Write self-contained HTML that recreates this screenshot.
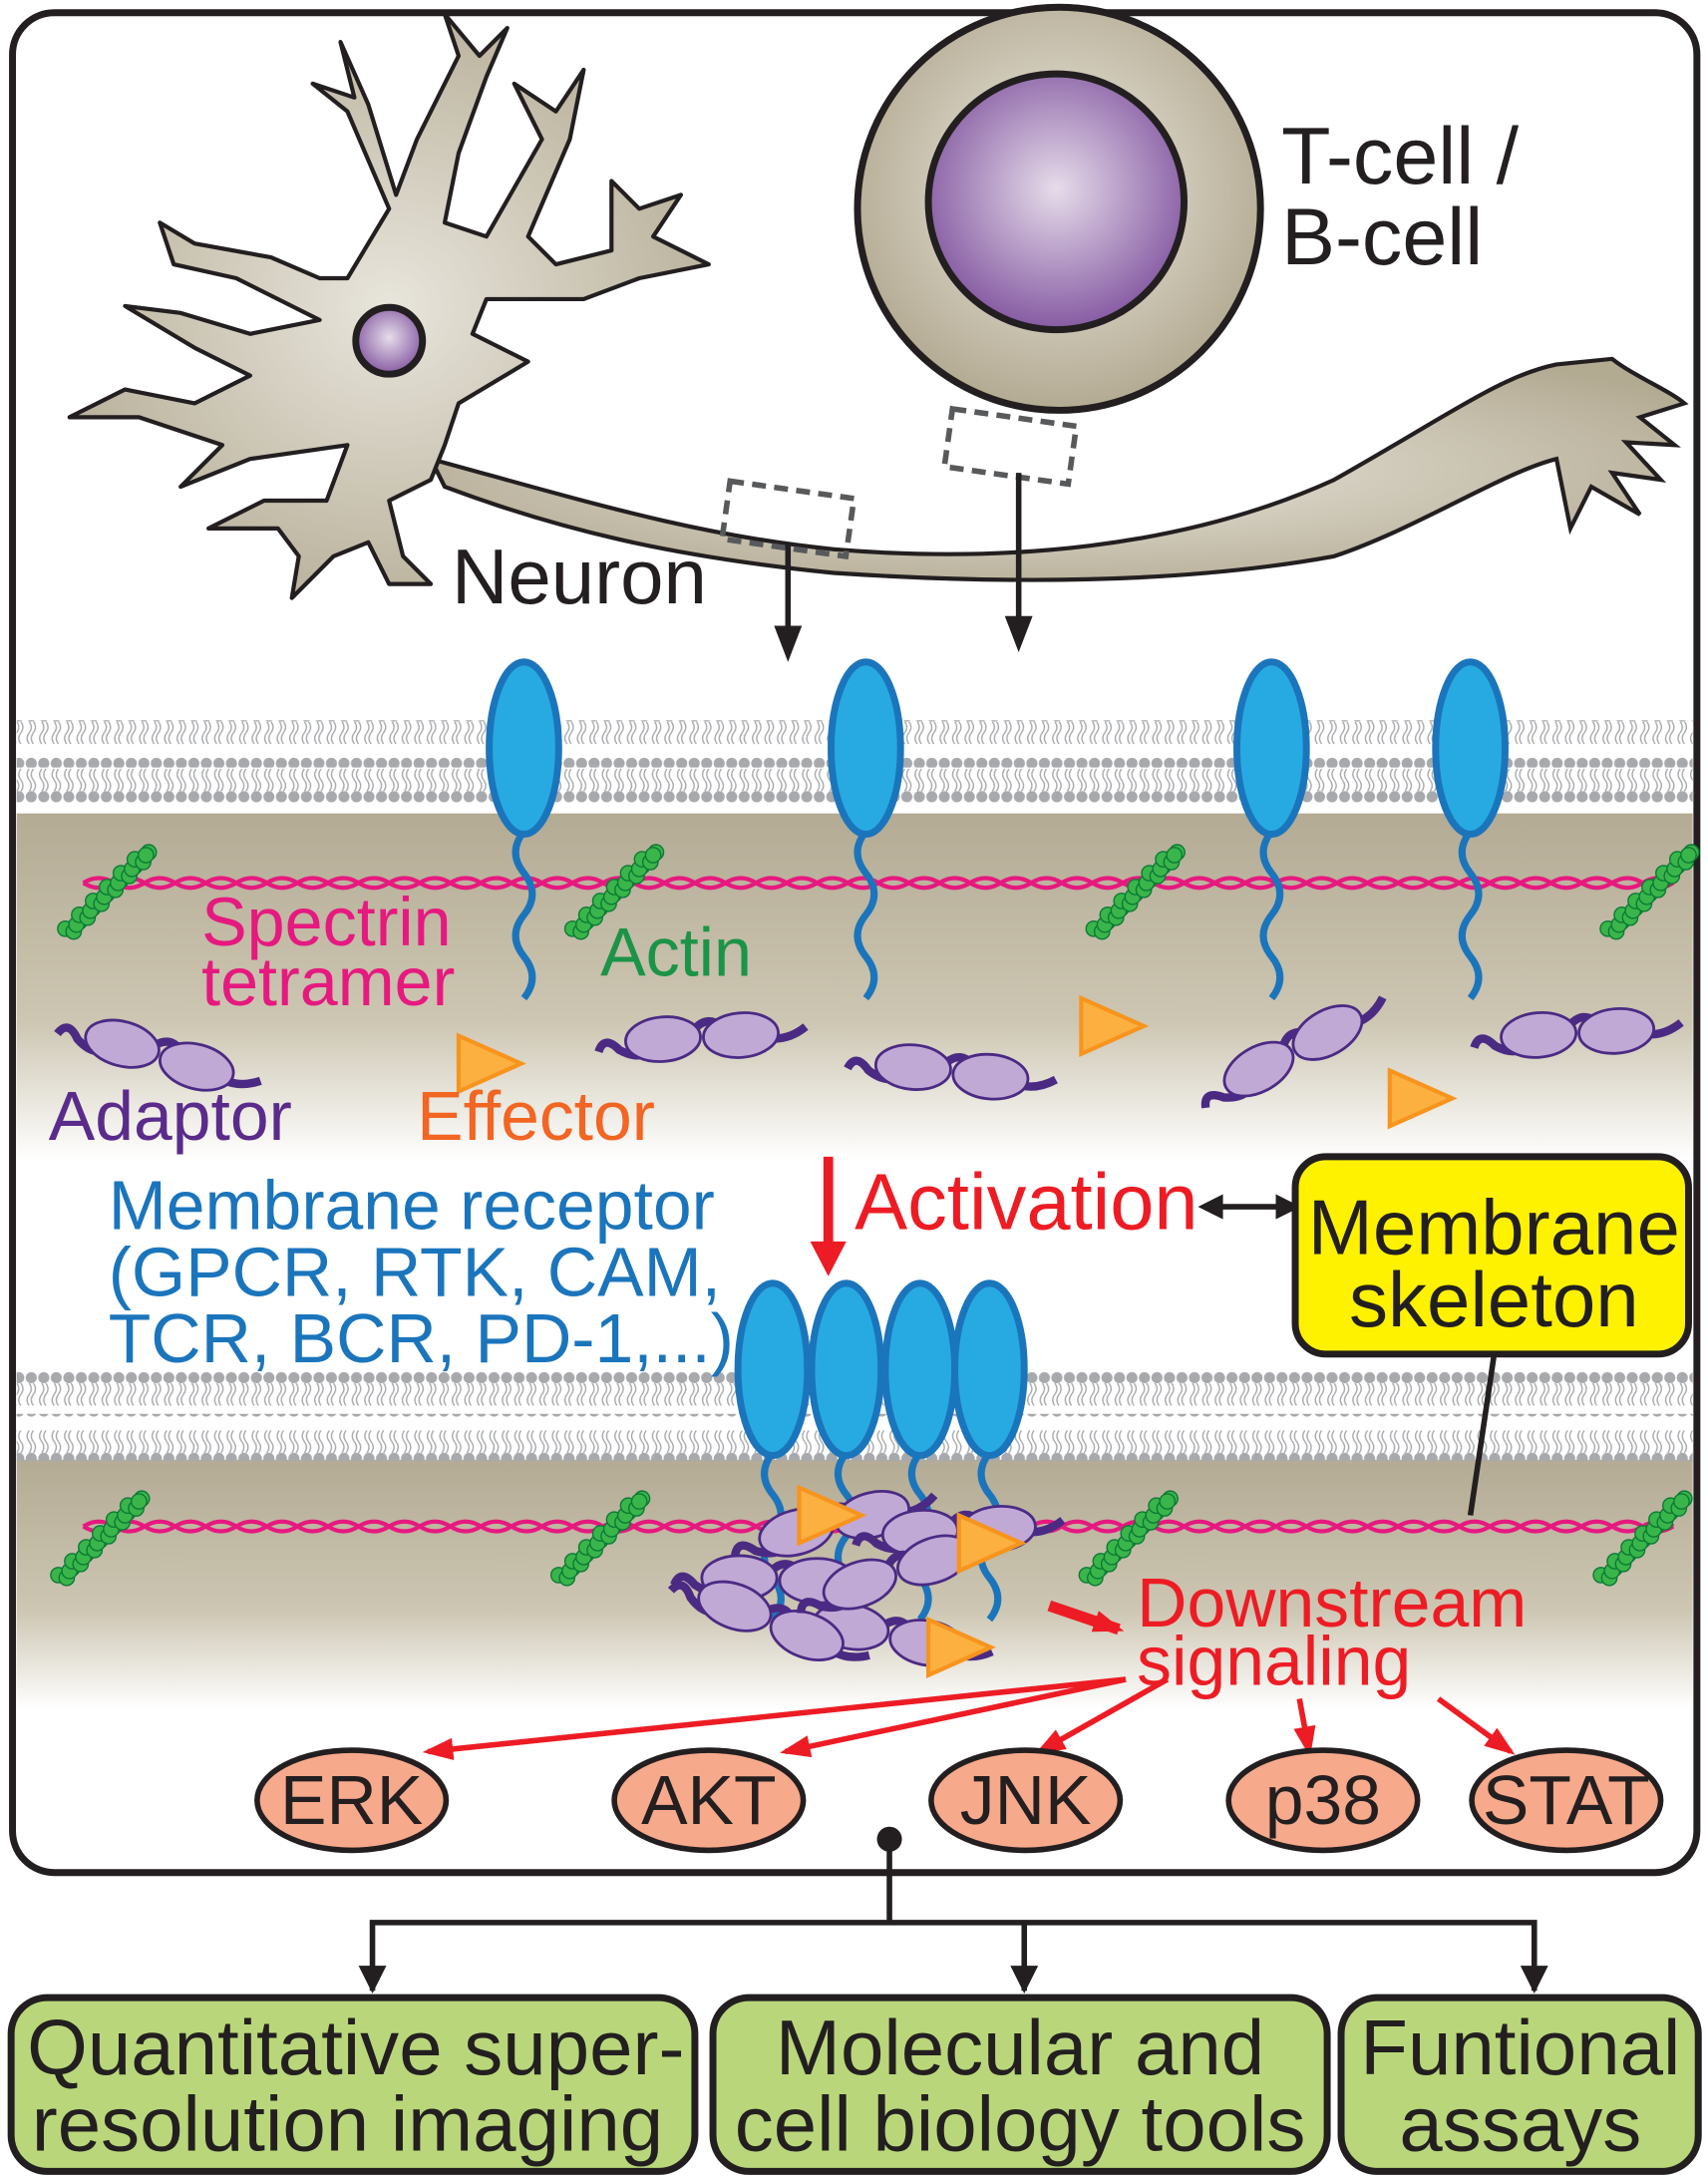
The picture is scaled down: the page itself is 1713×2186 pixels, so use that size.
<!DOCTYPE html>
<html><head><meta charset="utf-8"><style>
html,body{margin:0;padding:0;background:#fff;}
svg{display:block;font-family:"Liberation Sans",Arial,sans-serif;}
</style></head><body>
<svg id="fig" width="1713" height="2186" viewBox="0 0 1229 1568" xmlns="http://www.w3.org/2000/svg">
<defs>
<linearGradient id="band" x1="0" y1="0" x2="0" y2="1">
<stop offset="0" stop-color="#b3ab94"/><stop offset="0.6" stop-color="#cdc6b2"/><stop offset="1" stop-color="#ffffff"/></linearGradient>
<radialGradient id="cellg" cx="0.5" cy="0.45" r="0.55"><stop offset="0" stop-color="#efece4"/><stop offset="1" stop-color="#b3aa92"/></radialGradient>
<radialGradient id="nucg" cx="0.5" cy="0.45" r="0.6"><stop offset="0" stop-color="#e6dcea"/><stop offset="1" stop-color="#7d4f9c"/></radialGradient>
<radialGradient id="neug" cx="0.5" cy="0.5" r="0.6"><stop offset="0" stop-color="#e8e5dc"/><stop offset="1" stop-color="#b3aa92"/></radialGradient>
<pattern id="lipTop" x="0" y="0" width="9" height="34" patternUnits="userSpaceOnUse">
<circle cx="4.5" cy="5" r="4" fill="#a7a9ac"/>
<path d="M3 9 q3 4 0 8 q-3 4 0 8 M6 9 q3 4 0 8 q-3 4 0 8" stroke="#a7a9ac" stroke-width="1" fill="none"/>
</pattern>
<pattern id="lipBot" x="0" y="0" width="9" height="34" patternUnits="userSpaceOnUse">
<circle cx="4.5" cy="29" r="4" fill="#a7a9ac"/>
<path d="M3 25 q3 -4 0 -8 q-3 -4 0 -8 M6 25 q3 -4 0 -8 q-3 -4 0 -8" stroke="#a7a9ac" stroke-width="1" fill="none"/>
</pattern>
<marker id="ar" markerWidth="22" markerHeight="16" refX="18" refY="8" orient="auto" markerUnits="userSpaceOnUse"><path d="M0 0 L22 8 L0 16 Z" fill="#ed1c24"/></marker>
</defs>

<rect x="9" y="9" width="1212" height="1338" rx="30" fill="#fff" stroke="#231f20" stroke-width="5"/>

<g>
<rect x="12" y="585" width="1206" height="250" fill="url(#band)"/>
<rect x="12" y="518" width="1206" height="34" fill="url(#lipTop)"/>
<rect x="12" y="552" width="1206" height="34" fill="url(#lipBot)"/>
</g>
<g>
<rect x="12" y="1050" width="1206" height="180" fill="url(#band)"/>
<rect x="12" y="984" width="1206" height="34" fill="url(#lipTop)"/>
<rect x="12" y="1017" width="1206" height="34" fill="url(#lipBot)"/>
</g>

<g id="spectrin"></g>
<g id="actins"></g>

<g>
<path d="M310 330 C420 360 500 385 600 395 C720 405 850 395 960 345 C1040 300 1080 270 1120 262 L1160 258 C1175 270 1200 280 1212 290 L1180 300 L1205 320 L1170 318 L1195 345 L1160 340 L1180 370 L1145 350 L1130 380 L1120 330 C1080 340 1020 380 960 400 C850 420 720 420 600 412 C480 400 400 380 320 350 Z" fill="url(#neug)" stroke="#231f20" stroke-width="3"/>
<path d="M280 150 L250 80 L225 60 L255 70 L245 30 L265 75 L285 140 L300 100 L330 40 L320 10 L345 40 L365 20 L350 55 L330 110 L320 160 L350 170 L390 100 L370 60 L400 80 L420 50 L410 100 L380 170 L400 190 L440 180 L440 130 L460 150 L490 140 L470 170 L510 190 L460 200 L420 215 L350 215 L340 240 L380 260 L330 290 L320 320 L310 345 L280 360 L290 400 L310 420 L280 420 L265 390 L240 400 L210 430 L215 400 L200 380 L150 380 L190 360 L235 360 L250 320 L180 330 L130 350 L160 320 L100 300 L50 300 L90 280 L140 290 L180 270 L140 250 L90 220 L130 225 L180 240 L230 230 L170 200 L125 190 L115 160 L140 175 L195 185 L230 200 L250 200 Z" fill="url(#neug)" stroke="#231f20" stroke-width="3" stroke-linejoin="round"/>
<circle cx="280" cy="245" r="24" fill="url(#nucg)" stroke="#231f20" stroke-width="5"/>
<rect x="522" y="352" width="90" height="42" fill="none" stroke="#58595b" stroke-width="4" stroke-dasharray="10 6" transform="rotate(8 567 373)"/>
</g>
<g>
<circle cx="762" cy="150" r="145" fill="url(#cellg)" stroke="#231f20" stroke-width="5"/>
<circle cx="760" cy="145" r="92" fill="url(#nucg)" stroke="#231f20" stroke-width="5"/>
<rect x="682" y="300" width="90" height="42" fill="none" stroke="#58595b" stroke-width="4" stroke-dasharray="10 6" transform="rotate(8 727 321)"/>
</g>
<text x="922" y="132" font-size="58" fill="#231f20">T-cell /</text>
<text x="922" y="190" font-size="58" fill="#231f20">B-cell</text>
<text x="325" y="434" font-size="56" fill="#231f20">Neuron</text>
<g>
<line x1="567" y1="392" x2="567" y2="455" stroke="#231f20" stroke-width="4"/>
<path d="M557 450 L577 450 L567 476Z" fill="#231f20"/></g>
<g>
<line x1="733" y1="340" x2="733" y2="448" stroke="#231f20" stroke-width="4"/>
<path d="M723 443 L743 443 L733 469Z" fill="#231f20"/></g>

<g id="receptors"></g>
<g id="adaptors"></g>
<g id="effectors"></g>

<text x="145" y="680" font-size="49" fill="#e6197f">Spectrin</text>
<text x="145" y="723" font-size="49" fill="#e6197f">tetramer</text>
<text x="432" y="702" font-size="49" fill="#1b9447">Actin</text>
<text x="35" y="820" font-size="50" fill="#5b2b8c">Adaptor</text>
<text x="300" y="820" font-size="50" fill="#f26522">Effector</text>
<text x="78" y="884" font-size="50" fill="#1b75bc">Membrane receptor</text>
<text x="78" y="932" font-size="50" fill="#1b75bc">(GPCR, RTK, CAM,</text>
<text x="78" y="980" font-size="50" fill="#1b75bc">TCR, BCR, PD-1,...)</text>

<line x1="596" y1="832" x2="596" y2="900" stroke="#ed1c24" stroke-width="7"/>
<path d="M583 893 L609 893 L596 918 Z" fill="#ed1c24"/>
<text x="615" y="884" font-size="57" fill="#ed1c24">Activation</text>
<g>
<line x1="872" y1="868" x2="926" y2="868" stroke="#231f20" stroke-width="4"/>
<path d="M862 868 L880 859 L880 877Z M936 868 L918 859 L918 877Z" fill="#231f20"/></g>
<rect x="932" y="832" width="283" height="142" rx="22" fill="#fff200" stroke="#231f20" stroke-width="5"/>
<text x="1075" y="902" font-size="56" text-anchor="middle" fill="#231f20">Membrane</text>
<text x="1075" y="954" font-size="56" text-anchor="middle" fill="#231f20">skeleton</text>
<line x1="1075" y1="975" x2="1058" y2="1090" stroke="#231f20" stroke-width="4"/>

<line x1="755" y1="1155" x2="805" y2="1172" stroke="#ed1c24" stroke-width="8" marker-end="url(#ar)"/>
<text x="818" y="1170" font-size="50" fill="#ed1c24">Downstream</text>
<text x="818" y="1212" font-size="50" fill="#ed1c24">signaling</text>
<g id="kinases"></g>

<line x1="640" y1="1323" x2="640" y2="1383" stroke="#231f20" stroke-width="4"/>
<circle cx="640" cy="1323" r="9" fill="#231f20"/>
<polyline points="268,1432 268,1383 1104,1383 1104,1432" fill="none" stroke="#231f20" stroke-width="4"/>
<line x1="737" y1="1383" x2="737" y2="1432" stroke="#231f20" stroke-width="4"/>
<path d="M258 1414 L278 1414 L268 1434Z M727 1414 L747 1414 L737 1434Z M1094 1414 L1114 1414 L1104 1434Z" fill="#231f20"/>

<g>
<rect x="8" y="1437" width="492" height="125" rx="26" fill="#b9d77a" stroke="#231f20" stroke-width="5"/>
<text x="256" y="1492" font-size="56" text-anchor="middle" fill="#231f20">Quantitative super-</text>
<text x="250" y="1547" font-size="56" text-anchor="middle" fill="#231f20">resolution imaging</text></g>
<g>
<rect x="513" y="1437" width="442" height="125" rx="26" fill="#b9d77a" stroke="#231f20" stroke-width="5"/>
<text x="734" y="1492" font-size="56" text-anchor="middle" fill="#231f20">Molecular and</text>
<text x="734" y="1547" font-size="56" text-anchor="middle" fill="#231f20">cell biology tools</text></g>
<g>
<rect x="965" y="1437" width="257" height="125" rx="26" fill="#b9d77a" stroke="#231f20" stroke-width="5"/>
<text x="1094" y="1492" font-size="56" text-anchor="middle" fill="#231f20">Funtional</text>
<text x="1094" y="1547" font-size="56" text-anchor="middle" fill="#231f20">assays</text></g>

<script>
var NS="http://www.w3.org/2000/svg";
function mk(p,t,a){var e=document.createElementNS(NS,t);for(var k in a)e.setAttribute(k,a[k]);p.appendChild(e);return e;}
var kinaseNames=["ERK","AKT","JNK","p38","STAT"];
var kinaseX=[253,510,738,952,1127];
var receptorTop=[377,623,915,1058];
var receptorBot=[556,609,662,712];
var actinTop=[75,440,815,1185];
var actinBot=[70,430,810,1180];
var sp=document.getElementById('spectrin');
[635,1098].forEach(function(y){
 var d1="M60 "+y,d2="M60 "+y;
 for(var x=60;x<1190;x+=22){d1+=" Q"+(x+11)+" "+(y-7)+" "+(x+22)+" "+y;d2+=" Q"+(x+11)+" "+(y+7)+" "+(x+22)+" "+y;}
 var p=mk(sp,'path',{d:d1,stroke:"#e6197f","stroke-width":3,fill:"none"});
 
 
 mk(sp,'path',{d:d2,stroke:"#e6197f","stroke-width":3,fill:"none"});
});
var ac=document.getElementById('actins');
function actin(cx,cy){var g=mk(ac,'g',{});
 
 
 for(var i=0;i<12;i++){mk(g,'circle',{cx:cx-28+i*5+(i%2)*5,cy:cy+28-i*5,r:5.5,fill:"#39b54a",stroke:"#0b7a35","stroke-width":1});
  mk(g,'circle',{cx:cx-22+i*5-(i%2)*3,cy:cy+30-i*5,r:5.5,fill:"#39b54a",stroke:"#0b7a35","stroke-width":1});}}
actinTop.forEach(function(x){actin(x,640);});
actinBot.forEach(function(x){actin(x,1105);});
var rc=document.getElementById('receptors');
function receptor(x,y){var g=mk(rc,'g',{});
 
 
 mk(g,'path',{d:"M"+x+" "+(y+60)+" q-12 15 0 30 q12 15 0 30 q-12 15 0 30 q12 15 0 30",stroke:"#1b75bc","stroke-width":5,fill:"none"});
 mk(g,'ellipse',{cx:x,cy:y,rx:25,ry:62,fill:"#27aae1",stroke:"#1b75bc","stroke-width":5});}
receptorTop.forEach(function(x){receptor(x,538);});
var ad=document.getElementById('adaptors');
function adaptor(x,y,r){var g=mk(ad,'g',{transform:"translate("+x+" "+y+") rotate("+r+")"});
 
 
 mk(g,'path',{d:"M-75 5 q5 -12 15 0 q15 10 25 0 M-5 -5 q10 -10 20 0 M45 5 q15 5 30 -5",stroke:"#4b2a84","stroke-width":6,fill:"none"});
 mk(g,'ellipse',{cx:-28,cy:0,rx:27,ry:16,fill:"#c1a9d6",stroke:"#4b2a84","stroke-width":2});
 mk(g,'ellipse',{cx:28,cy:2,rx:27,ry:16,fill:"#c1a9d6",stroke:"#4b2a84","stroke-width":2});}
[[115,758,15],[505,745,-5],[685,770,5],[930,755,-30],[1135,742,-5],
 [560,1135,0],[640,1175,10],[600,1095,-15],[690,1100,-5],[555,1165,20],[645,1130,-20]].forEach(function(a){adaptor(a[0],a[1],a[2]);});
receptorBot.forEach(function(x){receptor(x,985);});
var ef=document.getElementById('effectors');
[[330,765],[778,738],[1000,790],[575,1090],[690,1110],[668,1185]].forEach(function(p){
 var t=mk(ef,'path',{d:"M"+p[0]+" "+(p[1]-20)+" L"+(p[0]+45)+" "+p[1]+" L"+p[0]+" "+(p[1]+20)+" Z",fill:"#fbb040",stroke:"#f7941d","stroke-width":3});
 
 });
var kn=document.getElementById('kinases');
kinaseNames.forEach(function(n,i){var x=kinaseX[i],y=1295;
 var g=mk(kn,'g',{});
 
 
 var sx=(i<2)?810:(i==2?840:(i==3?935:1035)), sy=(i<3)?1208:1222;
 mk(g,'line',{x1:sx,y1:sy,x2:x+(i<2?55:(i==2?10:(i==3?-10:-40))),y2:y-35,stroke:"#ed1c24","stroke-width":4,"marker-end":"url(#ar)"});
 mk(g,'ellipse',{cx:x,cy:y,rx:68,ry:36,fill:"#f7a98b",stroke:"#231f20","stroke-width":4});
 var t=mk(g,'text',{x:x,y:y+17,"font-size":50,"text-anchor":"middle",fill:"#231f20"});t.textContent=n;});
</script>
</svg>
</body></html>
